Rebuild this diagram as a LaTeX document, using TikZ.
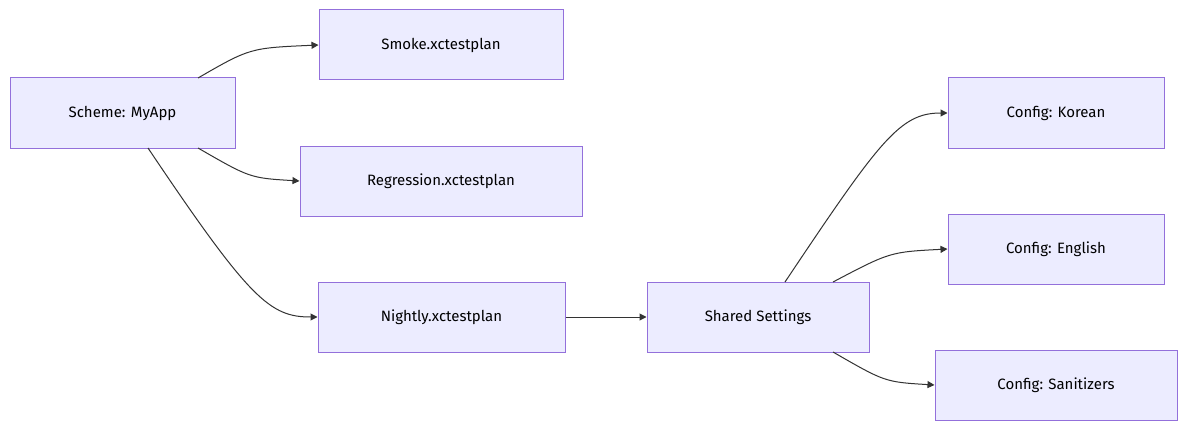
\documentclass[tikz,border=0pt]{standalone}
\usepackage{fontspec}
\setmainfont{Fira Sans}
\usetikzlibrary{arrows.meta}
\definecolor{nfill}{HTML}{ECECFF}
\definecolor{nstroke}{HTML}{9370DB}
\definecolor{ecol}{HTML}{333333}
\begin{document}
\begin{tikzpicture}[x=1pt,y=-1pt,
  box/.style={draw=nstroke,fill=nfill,line width=1pt,minimum height=70pt,inner sep=0pt,font=\fontsize{15}{18}\selectfont,text=black},
  e/.style={draw=ecol,line width=1pt,-{Triangle[length=7pt,width=7pt]}}]
\useasboundingbox (0,0) rectangle (1200,436);
\node[box,minimum width=225pt] (s) at (122.5,113) {Scheme: MyApp};
\node[box,minimum width=244pt] (sm) at (441,45) {Smoke.xctestplan};
\node[box,minimum width=282pt] (r) at (441,181) {Regression.xctestplan};
\node[box,minimum width=247pt] (n) at (441.5,317) {Nightly.xctestplan};
\node[box,minimum width=222pt] (sh) at (758,317) {Shared Settings};
\node[box,minimum width=216pt] (k) at (1056,113) {Config: Korean};
\node[box,minimum width=216pt] (en) at (1056,249) {Config: English};
\node[box,minimum width=242pt] (sa) at (1056,385) {Config: Sanitizers};
\coordinate (a1) at (198,78); \coordinate (a2) at (198,148); \coordinate (a3) at (148,148);
\coordinate (b1) at (785,282); \coordinate (b2) at (833,282); \coordinate (b3) at (833,352);
\draw[e] (a1) .. controls (250,48) .. (sm.west);
\draw[e] (a2) .. controls (250,178) .. (r.west);
\draw[e] (a3) .. controls (250,300) and (270,317) .. (n.west);
\draw[e] (n) -- (sh);
\draw[e] (b1) .. controls (880,140) and (900,113) .. (k.west);
\draw[e] (b2) .. controls (890,252) .. (en.west);
\draw[e] (b3) .. controls (885,382) .. (sa.west);
\end{tikzpicture}
\end{document}
